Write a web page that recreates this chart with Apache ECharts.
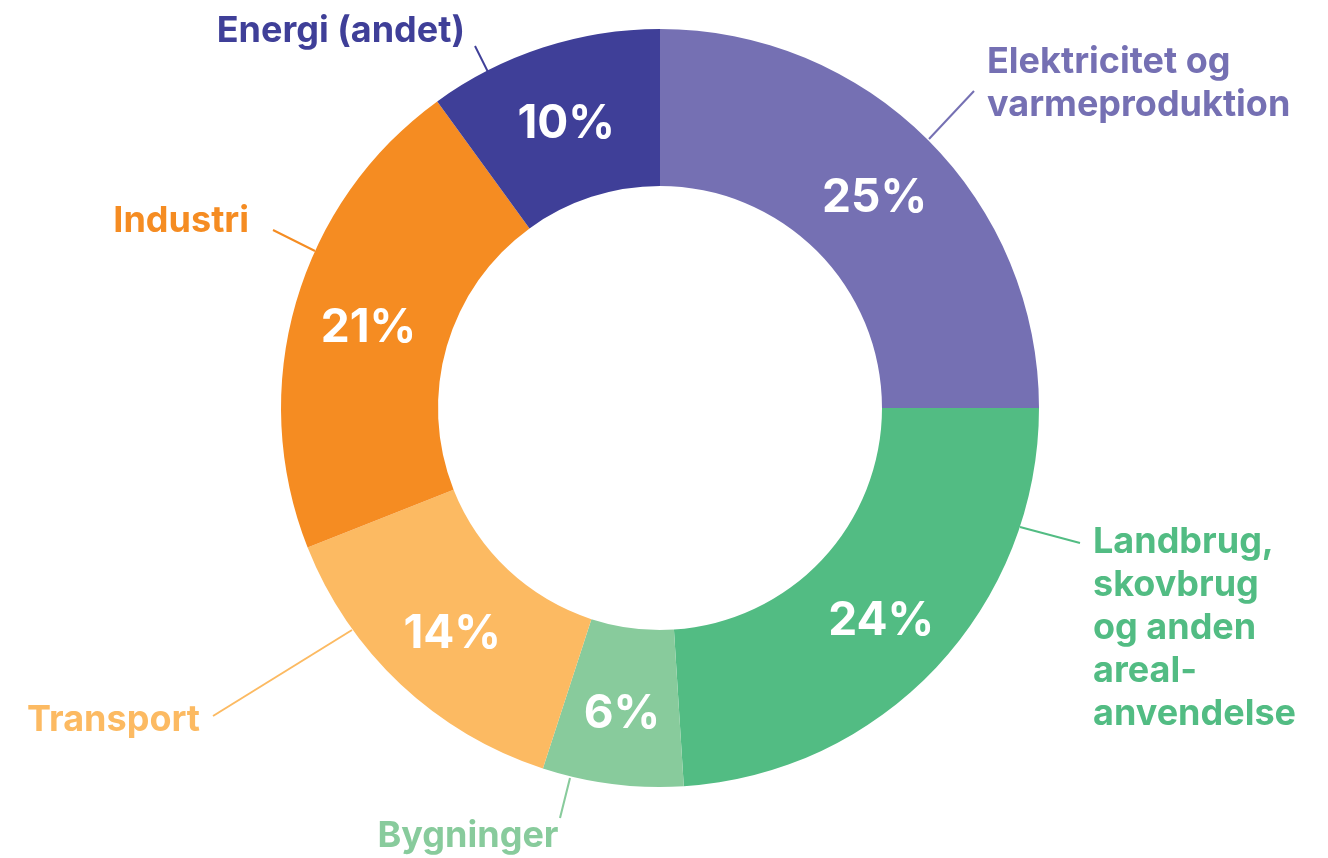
<!DOCTYPE html>
<html><head><meta charset="utf-8">
<script src="https://cdn.jsdelivr.net/npm/echarts@6/dist/echarts.min.js"></script>
<style>html,body{margin:0;padding:0;background:#fff}#chart{width:1328px;height:858px}</style>
</head><body><div id="chart"></div>
<script>
const categories = ['Elektricitet og\nvarmeproduktion', 'Landbrug,\nskovbrug\nog anden\nareal-\nanvendelse', 'Bygninger', 'Transport', 'Industri', 'Energi (andet)'];
const shares = [25, 24, 6, 14, 21, 10];
const colors = ['#7570b3', '#52bc83', '#88cb9c', '#fcba62', '#f58c22', '#3f3f98'];

// label anchor spots (layout only)
const labelSpots = [
  {x: 987, y: 84, align: 'left', line: [[929, 139], [974, 91]]},
  {x: 1093, y: 628, align: 'left', line: [[1020, 527], [1080, 543]]},
  {x: 468, y: 836, align: 'center', line: [[570, 778], [560, 818]]},
  {x: 200, y: 720, align: 'right', line: [[352, 630], [213, 716]]},
  {x: 249, y: 221, align: 'right', line: [[315, 251], [273, 230]]},
  {x: 465, y: 31, align: 'right', line: [[488, 72], [475, 46]]}
];

const FONT = 'Inter, Lato, "DejaVu Sans", sans-serif';
const chart = echarts.init(document.getElementById('chart'), null, {renderer: 'canvas'});

const innerData = categories.map((n, i) => ({name: n, value: shares[i], itemStyle: {color: colors[i]}}));
const outerData = categories.map((n, i) => ({
  name: n, value: shares[i],
  itemStyle: {color: 'rgba(0,0,0,0)'},
  label: {color: colors[i]},
  labelLine: {lineStyle: {color: colors[i]}}
}));

chart.setOption({
  animation: false,
  backgroundColor: '#fff',
  series: [
    {
      type: 'pie',
      center: [660, 408],
      radius: [222, 379],
      startAngle: 90,
      clockwise: true,
      silent: true,
      avoidLabelOverlap: false,
      data: innerData,
      label: {
        show: true,
        position: 'inside',
        formatter: '{c}%',
        color: '#fff',
        fontFamily: FONT,
        fontWeight: 700,
        fontSize: 46,
        offset: [0, 5]
      },
      labelLine: {show: false}
    },
    {
      type: 'pie',
      center: [660, 408],
      radius: [222, 379],
      startAngle: 90,
      clockwise: true,
      silent: true,
      avoidLabelOverlap: false,
      data: outerData,
      label: {
        show: true,
        position: 'outside',
        alignTo: 'none',
        formatter: '{b}',
        fontFamily: FONT,
        fontWeight: 700,
        fontSize: 36,
        lineHeight: 43
      },
      labelLine: {show: true, length: 10, length2: 0, lineStyle: {width: 2}},
      labelLayout: function (p) {
        const s = labelSpots[p.dataIndex];
        return {x: s.x, y: s.y, align: s.align, verticalAlign: 'middle', labelLinePoints: s.line};
      }
    }
  ]
});
</script>
</body></html>
